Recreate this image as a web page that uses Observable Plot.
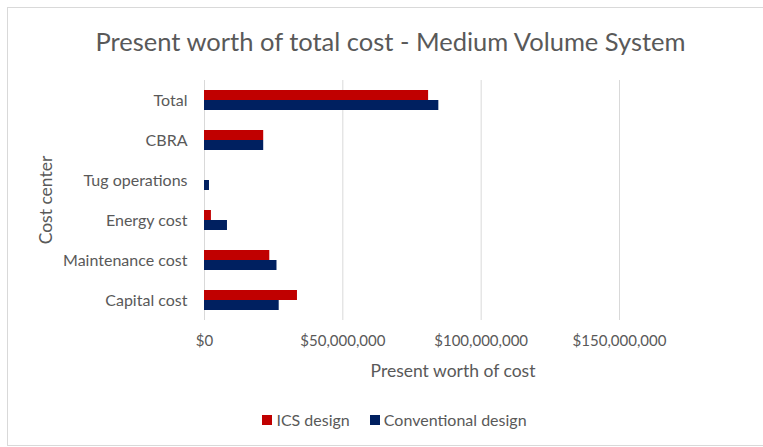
<!DOCTYPE html>
<html>
<head>
<meta charset="utf-8">
<script src="https://cdn.jsdelivr.net/npm/d3@7"></script>
<script src="https://cdn.jsdelivr.net/npm/@observablehq/plot@0.6"></script>
<style>
  html, body { margin: 0; padding: 0; background: #fff; }
  #chart { position: relative; width: 763px; height: 447px; overflow: hidden; font-family: Lato, "Open Sans", sans-serif; color: #595959; }
  #frame { position: absolute; left: 7px; top: 7px; width: 780px; height: 439px; border: 1px solid #d9d9d9; box-sizing: border-box; pointer-events: none; }
  #title { height: 70px; box-sizing: border-box; padding-top: 26px; text-align: center; font-size: 25.5px; line-height: 30px; color: #595959; padding-left: 18px; white-space: nowrap; }
  #legend { display: flex; justify-content: center; align-items: center; gap: 20px; font-size: 16px; padding-top: 15px; padding-left: 26px; }
  .key { display: flex; align-items: center; gap: 4px; }
  .sw { width: 10px; height: 10px; display: inline-block; }
  svg { display: block; }
  #xlabel { position: absolute; left: 453px; top: 370px; transform: translate(-50%, -50%); font-size: 17.5px; white-space: nowrap; }
  #ylabel { position: absolute; left: 45px; top: 200px; transform: translate(-50%, -50%) rotate(-90deg); font-size: 17.5px; white-space: nowrap; }
</style>
</head>
<body>
<div id="chart">
  <div id="frame"></div>
  <div id="title">Present worth of total cost - Medium Volume System</div>
  <div id="plot"></div>
  <div id="legend"></div>
  <div id="xlabel">Present worth of cost</div>
  <div id="ylabel">Cost center</div>
</div>
<script>
const categories = ["Total", "CBRA", "Tug operations", "Energy cost", "Maintenance cost", "Capital cost"];
const seriesNames = ["ICS design", "Conventional design"];
const icsValues = [81000000, 21400000, 0, 2500000, 23600000, 33600000];
const conventionalValues = [84700000, 21400000, 1800000, 8300000, 26200000, 27000000];
const xTicks = [0, 50000000, 100000000, 150000000];
const colors = ["#c00000", "#002060"];

const data = [];
categories.forEach((c, i) => {
  data.push({category: c, series: seriesNames[0], value: icsValues[i]});
  data.push({category: c, series: seriesNames[1], value: conventionalValues[i]});
});

const fmt = d => "$" + d3.format(",")(d);

const plot = Plot.plot({
  width: 763,
  height: 325,
  marginTop: 10,
  marginBottom: 75,
  marginLeft: 204,
  marginRight: 144,
  style: {fontFamily: "Lato, 'Open Sans', sans-serif", fontSize: "15px", color: "#595959", background: "transparent"},
  x: {domain: [0, 150000000], ticks: xTicks, tickFormat: fmt, tickSize: 0, tickPadding: 15, label: null, grid: false},
  y: {domain: seriesNames, paddingInner: 0, paddingOuter: 1, axis: null},
  fy: {domain: categories, padding: 0, axis: null},
  color: {domain: seriesNames, range: colors},
  marks: [
    Plot.gridX(xTicks, {stroke: "#d9d9d9", strokeOpacity: 1, strokeWidth: 1}),
    Plot.barX(data, {fy: "category", y: "series", x: "value", fill: "series", inset: 0}),
    Plot.axisFy({anchor: "left", tickSize: 0, tickPadding: 17, label: null, fontSize: 16})
  ]
});
document.getElementById("plot").appendChild(plot);

const legend = document.getElementById("legend");
seriesNames.forEach((s, i) => {
  const k = document.createElement("div");
  k.className = "key";
  const sw = document.createElement("span");
  sw.className = "sw";
  sw.style.background = colors[i];
  const t = document.createElement("span");
  t.textContent = s;
  k.appendChild(sw); k.appendChild(t);
  legend.appendChild(k);
});
</script>
</body>
</html>
